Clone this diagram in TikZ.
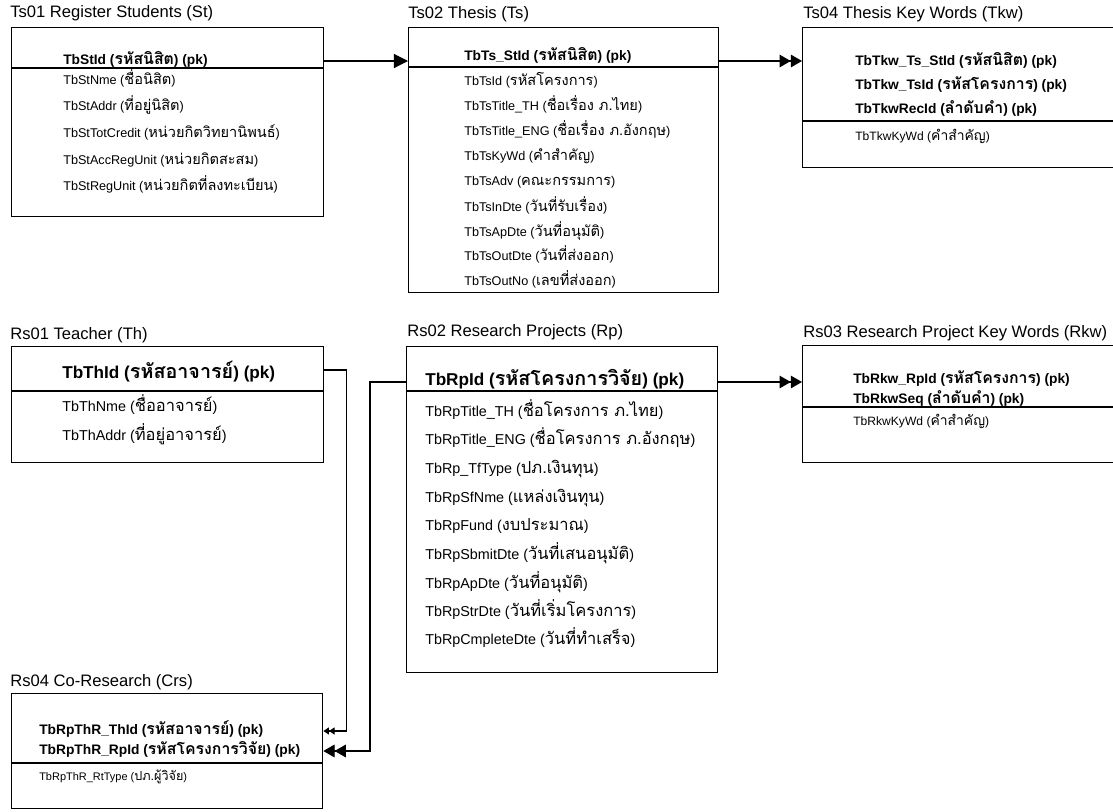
\documentclass[tikz,border=0pt]{standalone}
\usepackage{fontspec}
\setmainfont{Liberation Sans}
\newfontfamily\thaifont[Script=Thai,Scale=1.15]{Loma}
\newcommand{\thai}[1]{{\thaifont #1}}
\usetikzlibrary{arrows.meta}
\tikzset{
    tblbox/.style={draw, line width=0.9pt, anchor=north west, inner sep=0pt},
    tblline/.style={line width=0.9pt},
    tbltitle/.style={anchor=west, inner sep=0pt, text height=0.75em, text depth=0.25em,
        font=\fontsize{11.8}{13}\selectfont},
    rowtext/.style={anchor=west, inner sep=0pt, text height=0.75em, text depth=0.25em},
    keyA/.style={rowtext, font=\fontsize{9.8}{12}\selectfont\bfseries},
    fieldA/.style={rowtext, font=\fontsize{9}{11}\selectfont},
    keyB/.style={rowtext, font=\fontsize{12.2}{14}\selectfont\bfseries},
    fieldB/.style={rowtext, font=\fontsize{10.2}{12}\selectfont},
    keyC/.style={rowtext, font=\fontsize{9.8}{11}\selectfont\bfseries},
    fieldC/.style={rowtext, font=\fontsize{8.6}{10}\selectfont},
    fieldD/.style={rowtext, font=\fontsize{7.8}{9}\selectfont},
    link/.style={line width=0.8pt},
    tipone/.style={-{Triangle[length=10pt,width=10pt]}},
    tiptwo/.style={-{Triangle[length=8pt,width=9pt,sep=0pt]Triangle[length=8pt,width=9pt]}},
    tiptwosmall/.style={-{Triangle[length=4pt,width=5pt,sep=0pt]Triangle[length=4pt,width=5pt]}}
}
\begin{document}
\begin{tikzpicture}[x=0.025cm, y=-0.025cm]
    \useasboundingbox (0,0) rectangle (1113,811);
    % Ts01 Register Students
    \node[tbltitle] (StTitle) at (10,14) {Ts01 Register Students (St)};
    \node[tblbox, minimum width=7.8cm, minimum height=4.725cm] (St) at (11,27) {};
    \draw[tblline] (St.west |- 0,68) -- (St.east |- 0,68);
    \node[keyA] (StKey) at (63,61) {TbStId (\thai{รหัสนิสิต}) (pk)};
    \node[fieldA] (StNme) at (63,81) {TbStNme (\thai{ชื่อนิสิต})};
    \node[fieldA] (StAddr) at (63,107) {TbStAddr (\thai{ที่อยู่นิสิต})};
    \node[fieldA] (StTot) at (63,134) {TbStTotCredit (\thai{หน่วยกิตวิทยานิพนธ์})};
    \node[fieldA] (StAcc) at (63,161) {TbStAccRegUnit (\thai{หน่วยกิตสะสม})};
    \node[fieldA] (StReg) at (63,187) {TbStRegUnit (\thai{หน่วยกิตที่ลงทะเบียน})};

    % Ts02 Thesis
    \node[tbltitle] (TsTitle) at (408,15) {Ts02 Thesis (Ts)};
    \node[tblbox, minimum width=7.75cm, minimum height=6.625cm] (Ts) at (408,27) {};
    \draw[tblline] (Ts.west |- 0,67) -- (Ts.east |- 0,67);
    \node[keyA] (TsKey) at (464,57) {TbTs\_StId (\thai{รหัสนิสิต}) (pk)};
    \node[fieldA] (TsId) at (464,82) {TbTsId (\thai{รหัสโครงการ})};
    \node[fieldA] (TsTh) at (464,107) {TbTsTitle\_TH (\thai{ชื่อเรื่อง ภ.ไทย})};
    \node[fieldA] (TsEng) at (464,132) {TbTsTitle\_ENG (\thai{ชื่อเรื่อง ภ.อังกฤษ})};
    \node[fieldA] (TsKyWd) at (464,157) {TbTsKyWd (\thai{คำสำคัญ})};
    \node[fieldA] (TsAdv) at (464,182) {TbTsAdv (\thai{คณะกรรมการ})};
    \node[fieldA] (TsIn) at (464,208) {TbTsInDte (\thai{วันที่รับเรื่อง})};
    \node[fieldA] (TsAp) at (464,233) {TbTsApDte (\thai{วันที่อนุมัติ})};
    \node[fieldA] (TsOut) at (464,257) {TbTsOutDte (\thai{วันที่ส่งออก})};
    \node[fieldA] (TsNo) at (464,282) {TbTsOutNo (\thai{เลขที่ส่งออก})};

    % Ts04 Thesis Key Words
    \node[tbltitle] (TkwTitle) at (803,15) {Ts04 Thesis Key Words (Tkw)};
    \node[tblbox, minimum width=8.2cm, minimum height=3.5cm] (Tkw) at (802,27) {};
    \draw[tblline] (Tkw.west |- 0,121) -- (Tkw.east |- 0,121);
    \node[keyC] (TkwKeyA) at (855,62) {TbTkw\_Ts\_StId (\thai{รหัสนิสิต}) (pk)};
    \node[keyC] (TkwKeyB) at (855,86) {TbTkw\_TsId (\thai{รหัสโครงการ}) (pk)};
    \node[keyC] (TkwKeyC) at (855,110) {TbTkwRecId (\thai{ลำดับคำ}) (pk)};
    \node[fieldC] (TkwKyWd) at (855,137) {TbTkwKyWd (\thai{คำสำคัญ})};

    % Rs01 Teacher
    \node[tbltitle] (ThTitle) at (10,336) {Rs01 Teacher (Th)};
    \node[tblbox, minimum width=7.8cm, minimum height=2.9cm] (Th) at (11,346) {};
    \draw[tblline] (Th.west |- 0,391) -- (Th.east |- 0,391);
    \node[keyB] (ThKey) at (62,375) {TbThId (\thai{รหัสอาจารย์}) (pk)};
    \node[fieldB] (ThNme) at (62,408) {TbThNme (\thai{ชื่ออาจารย์})};
    \node[fieldB] (ThAddr) at (62,437) {TbThAddr (\thai{ที่อยู่อาจารย์})};

    % Rs02 Research Projects
    \node[tbltitle] (RpTitle) at (407,333) {Rs02 Research Projects (Rp)};
    \node[tblbox, minimum width=7.775cm, minimum height=8.15cm] (Rp) at (406,346) {};
    \draw[tblline] (Rp.west |- 0,391) -- (Rp.east |- 0,391);
    \node[keyB] (RpKey) at (425,382) {TbRpId (\thai{รหัสโครงการวิจัย}) (pk)};
    \node[fieldB] (RpTh) at (425,413) {TbRpTitle\_TH (\thai{ชื่อโครงการ ภ.ไทย})};
    \node[fieldB] (RpEng) at (425,441) {TbRpTitle\_ENG (\thai{ชื่อโครงการ ภ.อังกฤษ})};
    \node[fieldB] (RpTf) at (425,470) {TbRp\_TfType (\thai{ปภ.เงินทุน})};
    \node[fieldB] (RpSf) at (425,499) {TbRpSfNme (\thai{แหล่งเงินทุน})};
    \node[fieldB] (RpFund) at (425,527) {TbRpFund (\thai{งบประมาณ})};
    \node[fieldB] (RpSbmit) at (425,556) {TbRpSbmitDte (\thai{วันที่เสนอนุมัติ})};
    \node[fieldB] (RpAp) at (425,585) {TbRpApDte (\thai{วันที่อนุมัติ})};
    \node[fieldB] (RpStr) at (425,613) {TbRpStrDte (\thai{วันที่เริ่มโครงการ})};
    \node[fieldB] (RpCmp) at (425,641) {TbRpCmpleteDte (\thai{วันที่ทำเสร็จ})};

    % Rs03 Research Project Key Words
    \node[tbltitle] (RkwTitle) at (803,334) {Rs03 Research Project Key Words (Rkw)};
    \node[tblbox, minimum width=8.2cm, minimum height=2.925cm] (Rkw) at (802,345) {};
    \draw[tblline] (Rkw.west |- 0,407) -- (Rkw.east |- 0,407);
    \node[keyC] (RkwKeyA) at (853,380) {TbRkw\_RpId (\thai{รหัสโครงการ}) (pk)};
    \node[keyC] (RkwKeyB) at (853,400) {TbRkwSeq (\thai{ลำดับคำ}) (pk)};
    \node[fieldC] (RkwKyWd) at (853,422) {TbRkwKyWd (\thai{คำสำคัญ})};

    % Rs04 Co-Research
    \node[tbltitle] (CrsTitle) at (10,683) {Rs04 Co-Research (Crs)};
    \node[tblbox, minimum width=7.775cm, minimum height=2.875cm] (Crs) at (11,693) {};
    \draw[tblline] (Crs.west |- 0,763) -- (Crs.east |- 0,763);
    \node[keyC] (CrsKeyA) at (39,731) {TbRpThR\_ThId (\thai{รหัสอาจารย์}) (pk)};
    \node[keyC] (CrsKeyB) at (39,751) {TbRpThR\_RpId (\thai{รหัสโครงการวิจัย}) (pk)};
    \node[fieldD] (CrsRt) at (39,777) {TbRpThR\_RtType (\thai{ปภ.ผู้วิจัย})};

    % relations
    \draw[link, tipone] (St.east |- StKey) -- (Ts.west |- StKey);
    \draw[link, tiptwo] (Ts.east |- StKey) -- (Tkw.west |- StKey);
    \draw[link, tiptwo] (Rp.east |- RpKey) -- (Rkw.west |- RpKey);
    \draw[link, tiptwosmall] (Th.east |- 0,370) -- ++(22,0) |- (Crs.east |- CrsKeyA);
    \draw[link, tiptwo] (Rp.west |- RpKey) -- ++(-36,0) |- (Crs.east |- CrsKeyB);
\end{tikzpicture}
\end{document}
